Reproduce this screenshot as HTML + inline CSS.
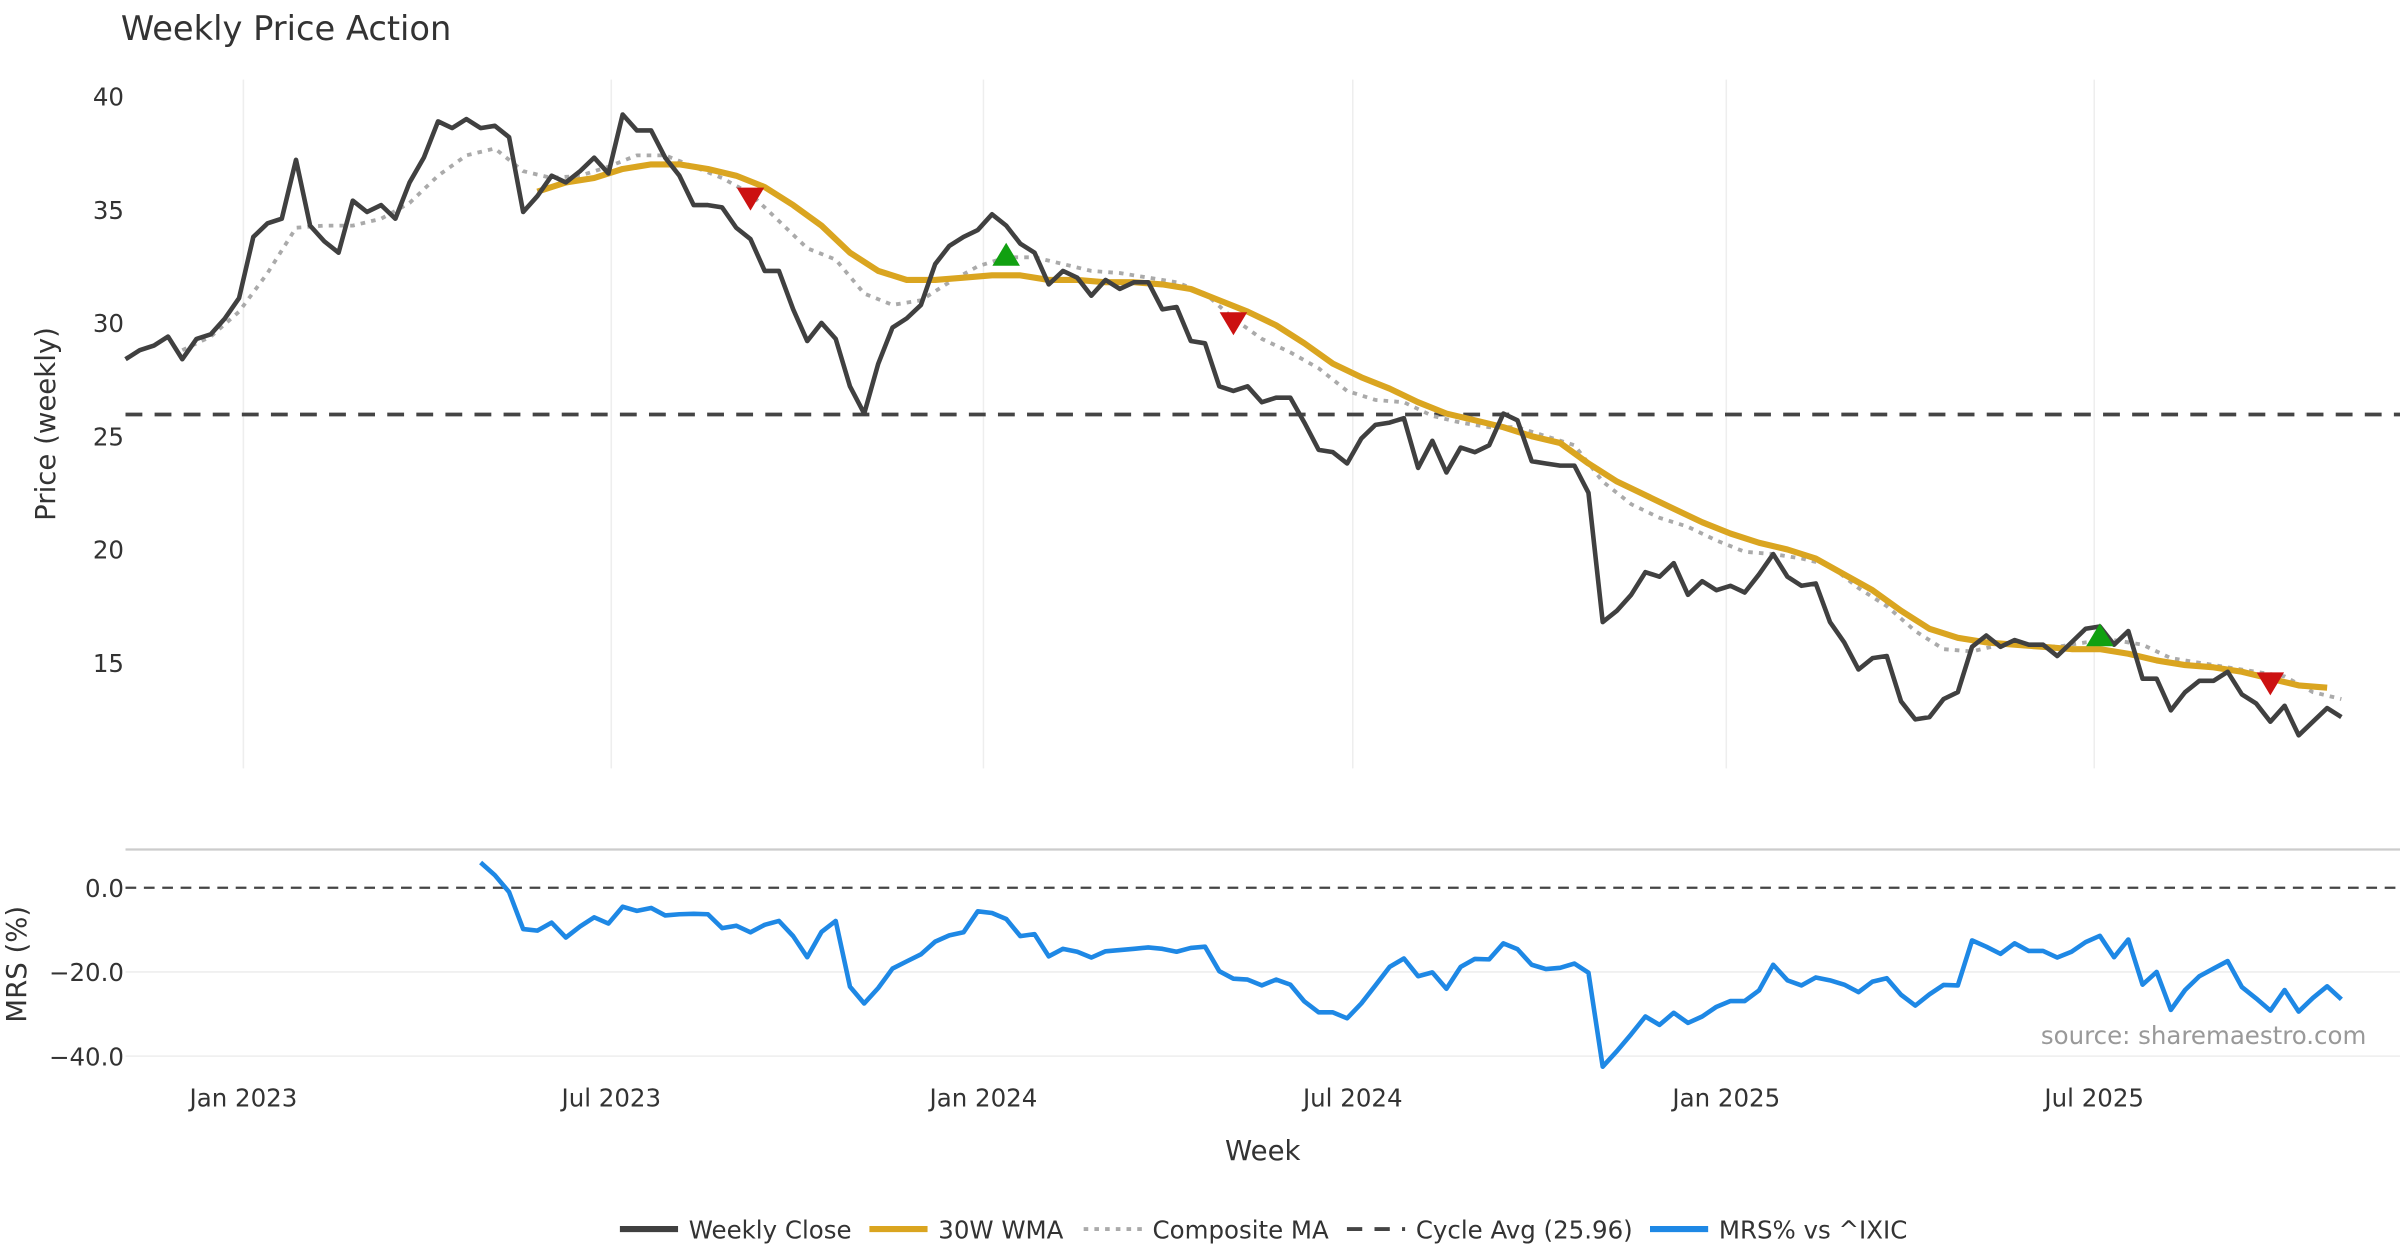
<!DOCTYPE html>
<html><head><meta charset="utf-8"><style>html,body{margin:0;padding:0;background:#fff}svg{display:block}text{font-family:"DejaVu Sans","Liberation Sans",sans-serif}</style></head>
<body>
<svg id="chart" width="2400" height="1260" viewBox="0 0 1568 823.2" xmlns="http://www.w3.org/2000/svg">
<text x="79" y="26" font-size="22" fill="#333">Weekly Price Action</text>
<g id="topG"></g><g id="botG"></g>
<text transform="translate(36,277) rotate(-90)" font-size="18" fill="#333" text-anchor="middle">Price (weekly)</text>
<text transform="translate(17,630) rotate(-90)" font-size="18" fill="#333" text-anchor="middle">MRS (%)</text>
<text x="825" y="758" font-size="18" fill="#333" text-anchor="middle">Week</text>
<text x="1546" y="682" font-size="16" fill="#999" text-anchor="end">source: sharemaestro.com</text>
<g id="legend"></g>
</svg>
<script>
const closeVals=[28.4,28.8,29.0,29.4,28.4,29.3,29.5,30.2,31.1,33.8,34.4,34.6,37.2,34.3,33.6,33.1,35.4,34.9,35.2,34.6,36.2,37.3,38.9,38.6,39.0,38.6,38.7,38.2,34.9,35.6,36.5,36.2,36.7,37.3,36.6,39.2,38.5,38.5,37.3,36.5,35.2,35.2,35.1,34.2,33.7,32.3,32.3,30.6,29.2,30.0,29.3,27.2,26.0,28.2,29.8,30.2,30.8,32.6,33.4,33.8,34.1,34.8,34.3,33.5,33.1,31.7,32.3,32.0,31.2,31.9,31.5,31.8,31.8,30.6,30.7,29.2,29.1,27.2,27.0,27.2,26.5,26.7,26.7,25.6,24.4,24.3,23.8,24.9,25.5,25.6,25.8,23.6,24.8,23.4,24.5,24.3,24.6,26.0,25.7,23.9,23.8,23.7,23.7,22.5,16.8,17.3,18.0,19.0,18.8,19.4,18.0,18.6,18.2,18.4,18.1,18.9,19.8,18.8,18.4,18.5,16.8,15.9,14.7,15.2,15.3,13.3,12.5,12.6,13.4,13.7,15.7,16.2,15.7,16.0,15.8,15.8,15.3,15.9,16.5,16.6,15.8,16.4,14.3,14.3,12.9,13.7,14.2,14.2,14.6,13.6,13.2,12.4,13.1,11.8,12.4,13.0,12.6];
const wmaStart=29;
const wmaVals=[35.8,36.2,36.4,36.8,37.0,37.0,36.8,36.5,36.0,35.2,34.3,33.1,32.3,31.9,31.9,32.0,32.1,32.1,31.9,31.9,31.8,31.8,31.7,31.5,31.0,30.5,29.9,29.1,28.2,27.6,27.1,26.5,26.0,25.7,25.4,25.0,24.7,23.8,23.0,22.4,21.8,21.2,20.7,20.3,20.0,19.6,18.9,18.2,17.3,16.5,16.1,15.9,15.8,15.7,15.6,15.6,15.4,15.1,14.9,14.8,14.6,14.3,14.0,13.9];
const compStart=4;
const compVals=[28.8,29.4,30.5,32.2,34.2,34.3,34.3,34.6,35.3,36.5,37.4,37.7,36.7,36.4,36.5,36.9,37.4,37.4,36.9,36.4,35.7,34.5,33.3,32.8,31.3,30.8,31.0,31.8,32.5,32.9,32.9,32.6,32.3,32.2,32.0,31.8,31.3,30.2,29.3,28.7,28.0,27.0,26.6,26.5,25.9,25.6,25.4,25.4,25.0,24.6,23.0,22.0,21.4,21.0,20.4,19.9,19.8,19.6,19.3,18.3,17.5,16.4,15.6,15.5,15.8,15.8,15.7,15.9,16.0,15.8,15.2,15.0,14.8,14.6,14.4,13.7,13.4];
const cycleAvg=25.96;
const mrsStart=25;
const mrsVals=[6,3,-1,-9.8,-10.2,-8.3,-11.8,-9.2,-7,-8.5,-4.5,-5.5,-4.8,-6.6,-6.3,-6.2,-6.3,-9.6,-9.0,-10.6,-8.8,-7.9,-11.5,-16.5,-10.5,-7.9,-23.5,-27.5,-23.8,-19.2,-17.5,-15.8,-12.8,-11.3,-10.6,-5.6,-6,-7.4,-11.5,-11,-16.3,-14.5,-15.2,-16.6,-15.1,-14.8,-14.5,-14.2,-14.5,-15.2,-14.3,-14,-19.8,-21.6,-21.8,-23.2,-21.8,-23,-27,-29.6,-29.6,-31,-27.5,-23.2,-18.8,-16.8,-21,-20.1,-24,-18.8,-16.9,-17,-13.2,-14.6,-18.3,-19.3,-19,-18,-20.2,-42.5,-38.8,-34.8,-30.6,-32.6,-29.7,-32.1,-30.6,-28.3,-26.9,-26.9,-24.4,-18.3,-22,-23.2,-21.3,-22,-23,-24.8,-22.3,-21.5,-25.4,-28,-25.3,-23.1,-23.2,-12.5,-14,-15.7,-13.2,-15,-15,-16.6,-15.2,-12.9,-11.4,-16.5,-12.3,-23,-20,-29,-24.3,-21,-19.2,-17.4,-23.6,-26.3,-29.2,-24.3,-29.4,-26.2,-23.4,-26.5];
const sellIdx=[44,78,151];const sellVals=[35.5,30.0,14.1];
const buyIdx=[62,139];const buyVals=[33.0,16.2];
const priceTicks=[15,20,25,30,35,40];
const mrsTicks=[0,-20,-40];
const dateLabels=["Jan 2023","Jul 2023","Jan 2024","Jul 2024","Jan 2025","Jul 2025"];
const dateIdx=[8.3,34.2,60.4,86.4,112.7,138.6];

const NS="http://www.w3.org/2000/svg";
const X=i=>82+i*9.28;
const YP=v=>63+(40-v)*14.8;
const YM=v=>580-v*2.75;
function mk(tag,attrs,parent){const e=document.createElementNS(NS,tag);for(const k in attrs)e.setAttribute(k,attrs[k]);parent.appendChild(e);return e;}
const topG=document.getElementById('topG'),botG=document.getElementById('botG'),leg=document.getElementById('legend');
dateIdx.forEach((d,k)=>{
 let g=mk('line',{x1:X(d),x2:X(d),y1:52,y2:502,stroke:'#eeeeee','stroke-width':1},topG);
 
 
 let t=mk('text',{x:X(d),y:723,'font-size':16,fill:'#333','text-anchor':'middle'},botG);t.textContent=dateLabels[k];
 
 
});
priceTicks.forEach(v=>{let t=mk('text',{x:81,y:YP(v)+6,'font-size':16,fill:'#333','text-anchor':'end'},topG);t.textContent=v;
 
 });
mrsTicks.forEach(v=>{
 if(v!==0){let g=mk('line',{x1:82,x2:1568,y1:YM(v),y2:YM(v),stroke:'#eeeeee','stroke-width':1},botG);
 
 }
 let t=mk('text',{x:81,y:YM(v)+6,'font-size':16,fill:'#333','text-anchor':'end'},botG);t.textContent=(v<0?'\u2212':'')+Math.abs(v).toFixed(1);
 
 });
let sep=mk('line',{x1:82,x2:1568,y1:555,y2:555,stroke:'#cccccc','stroke-width':1.5},botG);


let z=mk('line',{x1:82,x2:1568,y1:YM(0),y2:YM(0),stroke:'#444','stroke-width':1.5,'stroke-dasharray':'7,5'},botG);


let ca=mk('line',{x1:82,x2:1568,y1:YP(cycleAvg),y2:YP(cycleAvg),stroke:'#444','stroke-width':2.5,'stroke-dasharray':'11,8'},topG);


function poly(vals,start,step,Y,attrs,parent){return mk('polyline',Object.assign({points:vals.map((v,k)=>X(start+k*step).toFixed(1)+','+Y(v).toFixed(1)).join(' '),fill:'none','stroke-linejoin':'round'},attrs),parent);}
let cm=poly(compVals,compStart,2,YP,{stroke:'#aaaaaa','stroke-width':2.5,'stroke-dasharray':'3,4'},topG);


let wm=poly(wmaVals,wmaStart,2,YP,{stroke:'#DAA520','stroke-width':4},topG);


let cl=poly(closeVals,0,1,YP,{stroke:'#404040','stroke-width':3},topG);


let mr=poly(mrsVals,mrsStart,1,YM,{stroke:'#1E88E5','stroke-width':3},botG);


sellIdx.forEach((i,k)=>{const x=X(i),y=YP(sellVals[k]);let p=mk('polygon',{points:`${x-9},${y-7} ${x+9},${y-7} ${x},${y+8}`,fill:'#cc1111'},topG);
 
 });
buyIdx.forEach((i,k)=>{const x=X(i),y=YP(buyVals[k]);let p=mk('polygon',{points:`${x-9},${y+7} ${x+9},${y+7} ${x},${y-8}`,fill:'#11a011'},topG);
 
 });
const L=[["Weekly Close",405,'#404040',4,''],["30W WMA",568,'#DAA520',4,''],["Composite MA",708,'#aaaaaa',2.5,'3,4'],["Cycle Avg (25.96)",880,'#444',2.5,'10,8'],["MRS% vs ^IXIC",1078,'#1E88E5',4,'']];
L.forEach(e=>{let g=mk('g',{},leg);
 
 
 let a={x1:e[1],x2:e[1]+38,y1:803,y2:803,stroke:e[2],'stroke-width':e[3]};if(e[4])a['stroke-dasharray']=e[4];mk('line',a,g);
 let t=mk('text',{x:e[1]+45,y:809,'font-size':16,fill:'#333'},g);t.textContent=e[0];});
</script>
</body></html>
